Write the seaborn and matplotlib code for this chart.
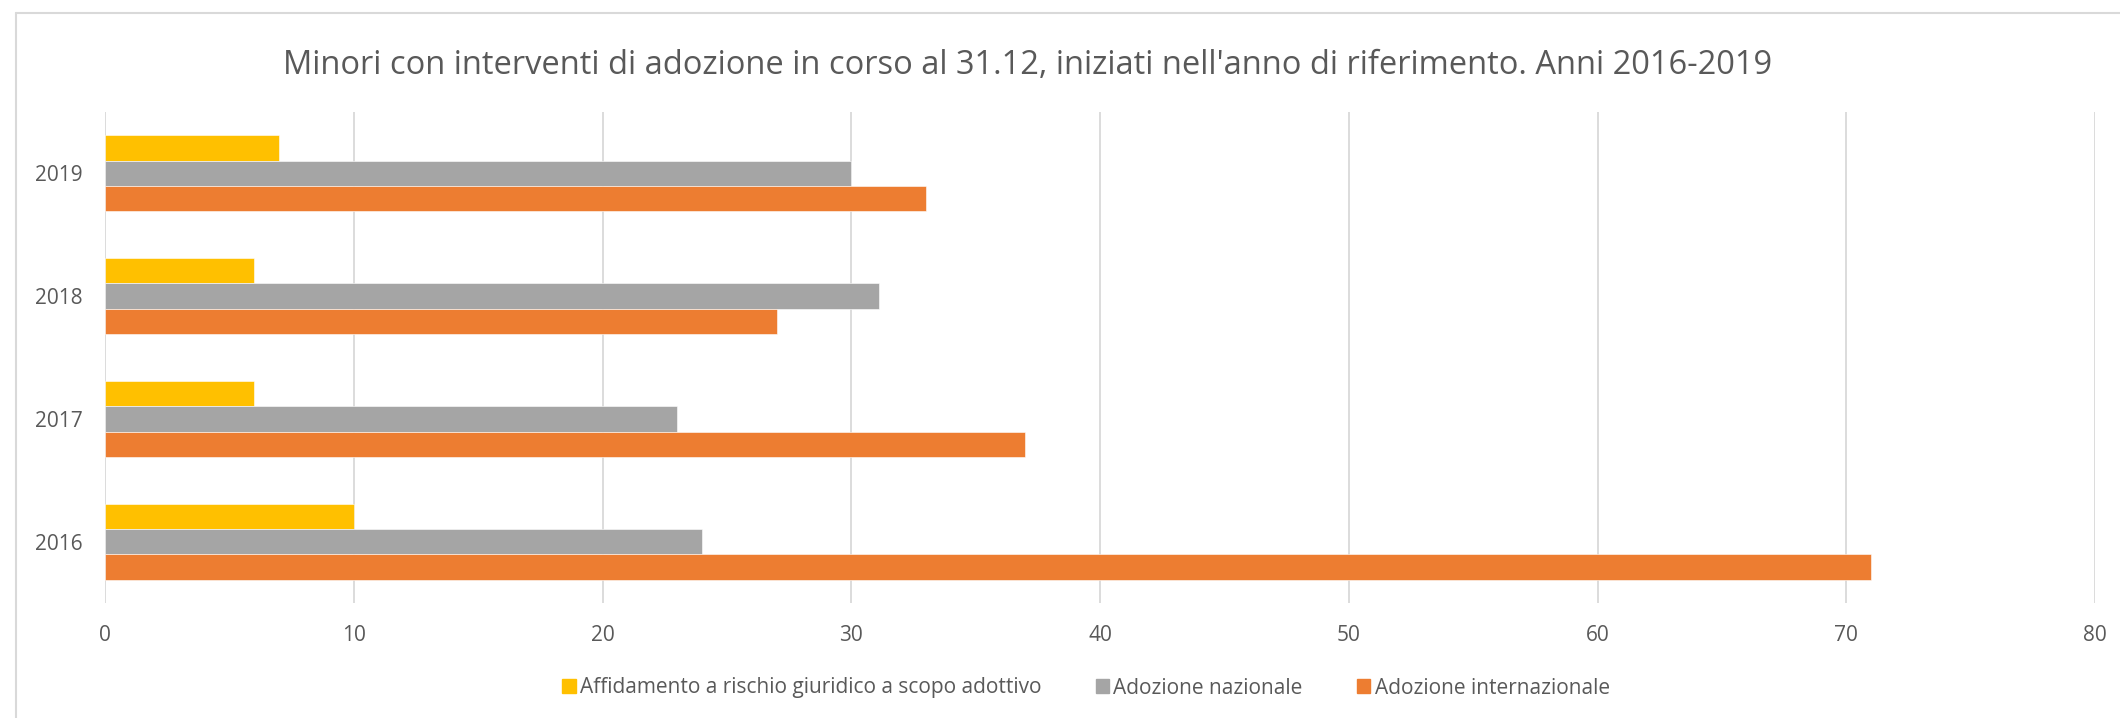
import pandas as pd
import matplotlib
matplotlib.use("Agg")
import matplotlib.pyplot as plt
from matplotlib.lines import Line2D
import seaborn as sns

years = ["2019", "2018", "2017", "2016"]
series = ["Affidamento a rischio giuridico a scopo adottivo",
          "Adozione nazionale",
          "Adozione internazionale"]
affidamento = [7, 6, 6, 10]
nazionale = [30, 31.1, 23, 24]
internazionale = [33, 27, 37, 71]
colors = ["#FFC000", "#A5A5A5", "#ED7D31"]
xticks = [0, 10, 20, 30, 40, 50, 60, 70, 80]

df = pd.DataFrame({
    "Anno": years * 3,
    "Serie": [series[0]] * 4 + [series[1]] * 4 + [series[2]] * 4,
    "Valore": affidamento + nazionale + internazionale,
})

sns.set_style("white")
plt.rcParams["font.family"] = ["Open Sans", "DejaVu Sans"]
text_col = "#595959"

fig = plt.figure(figsize=(21.2, 7.18), dpi=100)
ax = fig.add_axes([105 / 2120, 1 - 603 / 718, 1990 / 2120, 491 / 718])

sns.barplot(data=df, x="Valore", y="Anno", hue="Serie", order=years, hue_order=series,
            palette=colors, width=0.62, orient="h", errorbar=None, ax=ax,
            edgecolor="white", linewidth=0.4, saturation=1)

ax.set_xlim(0, 80)
ax.set_xticks(xticks)
ax.set_ylim(3.5, -0.5)
ax.grid(axis="x", color="#D9D9D9", linewidth=1.3)
ax.set_axisbelow(True)
for s in ax.spines.values():
    s.set_visible(False)
ax.tick_params(axis="both", length=0, labelsize=15, labelcolor=text_col, pad=16)
ax.set_xlabel("")
ax.set_ylabel("")

ax.get_legend().remove()
handles = [plt.Rectangle((0, 0), 1, 1, color=c) for c in colors]
fig.legend(handles, series, loc="center", bbox_to_anchor=(1086 / 2120, 1 - 688 / 718),
           ncol=3, frameon=False, fontsize=15, labelcolor=text_col,
           handlelength=0.65, handleheight=0.65, handletextpad=0.2, columnspacing=2.6)

fig.text(1028 / 2120, 1 - 65 / 718,
         "Minori con interventi di adozione in corso al 31.12, iniziati nell'anno di riferimento. Anni 2016-2019",
         ha="center", va="center", fontsize=23.5, color=text_col)

# chart frame
fig.add_artist(Line2D([16 / 2120, 16 / 2120], [0, 1 - 13 / 718], color="#D9D9D9", linewidth=1.5))
fig.add_artist(Line2D([16 / 2120, 1], [1 - 13 / 718, 1 - 13 / 718], color="#D9D9D9", linewidth=1.5))

plt.savefig("out.png", dpi=100)
plt.close()
